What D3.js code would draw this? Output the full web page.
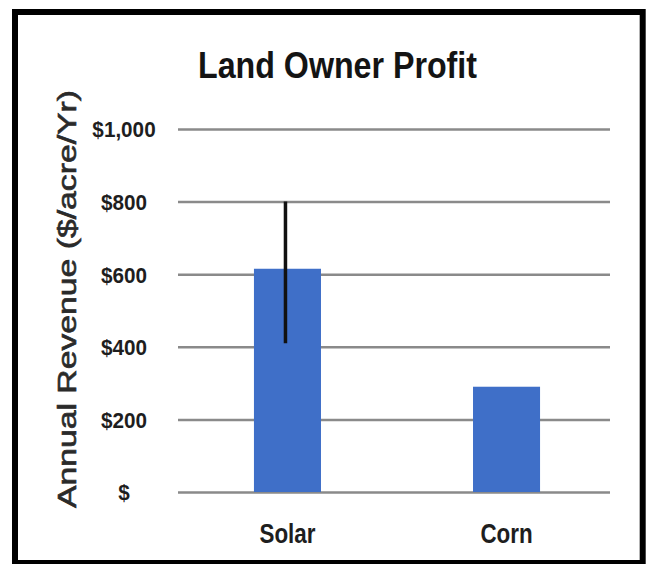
<!DOCTYPE html>
<html>
<head>
<meta charset="utf-8">
<script src="https://cdn.jsdelivr.net/npm/d3@7"></script>
<style>
  html, body { margin: 0; padding: 0; background: #fff; }
  svg { display: block; font-family: "Liberation Sans", Arial, sans-serif; }
</style>
</head>
<body>
<div id="chart"></div>
<script>
const categories = ['Solar', 'Corn'];
const revenue = [615, 290];
const errLow = [410, null];
const errHigh = [800, null];
const yTicks = [0, 200, 400, 600, 800, 1000];
const yTickLabels = ['$', '$200', '$400', '$600', '$800', '$1,000'];

const width = 654, height = 564;
const plot = { left: 178, right: 610, top: 129, bottom: 492 };

const svg = d3.select('#chart')
  .append('svg')
    .attr('width', width)
    .attr('height', height);

svg.append('rect')
  .attr('width', width)
  .attr('height', height)
  .attr('fill', '#fff');

const y = d3.scaleLinear()
  .domain([0, 1000])
  .range([plot.bottom, plot.top]);

const x = d3.scaleBand()
  .domain(categories)
  .range([plot.left + 3, plot.right + 3])
  .paddingInner(0.694)
  .paddingOuter(0.333);

// gridlines + tick labels
const yAxis = svg.append('g')
  .attr('transform', `translate(${plot.left},0)`)
  .call(d3.axisLeft(y)
    .tickValues(yTicks)
    .tickSize(-(plot.right - plot.left))
    .tickFormat((d, i) => yTickLabels[i]))
  .call(g => g.select('.domain').remove());

yAxis.selectAll('.tick line')
  .attr('stroke', '#8a8a8a')
  .attr('stroke-width', 2.5);

yAxis.selectAll('.tick text')
  .attr('x', 124 - plot.left)
  .attr('dy', '0.36em')
  .attr('text-anchor', 'middle')
  .style('font-size', '22px')
  .style('font-weight', 'bold')
  .style('fill', '#1e1e1e')
  .each(function () {
    const len = this.getComputedTextLength();
    d3.select(this).attr('textLength', len * 0.94).attr('lengthAdjust', 'spacingAndGlyphs');
  });

// bars
svg.selectAll('.bar')
  .data(categories)
  .join('rect')
  .attr('class', 'bar')
  .attr('x', d => x(d))
  .attr('y', (d, i) => y(revenue[i]))
  .attr('width', x.bandwidth())
  .attr('height', (d, i) => y(0) - y(revenue[i]))
  .attr('fill', '#3f6fc8');

// error bars (no caps)
svg.selectAll('.err')
  .data(categories.filter((d, i) => errHigh[i] != null))
  .join('line')
  .attr('class', 'err')
  .attr('x1', d => x(d) + x.bandwidth() / 2 - 2)
  .attr('x2', d => x(d) + x.bandwidth() / 2 - 2)
  .attr('y1', d => y(errHigh[categories.indexOf(d)]))
  .attr('y2', d => y(errLow[categories.indexOf(d)]))
  .attr('stroke', '#111')
  .attr('stroke-width', 3.5);

// category labels
svg.selectAll('.cat')
  .data(categories)
  .join('text')
  .attr('class', 'cat')
  .attr('x', d => x(d) + x.bandwidth() / 2)
  .attr('y', 543)
  .attr('text-anchor', 'middle')
  .style('font-size', '28px')
  .style('font-weight', 'bold')
  .style('fill', '#1e1e1e')
  .text(d => d)
  .each(function () {
    const len = this.getComputedTextLength();
    d3.select(this).attr('textLength', len * 0.8).attr('lengthAdjust', 'spacingAndGlyphs');
  });

// title
svg.append('text')
  .attr('x', 337.5)
  .attr('y', 78)
  .attr('text-anchor', 'middle')
  .attr('textLength', 279)
  .attr('lengthAdjust', 'spacingAndGlyphs')
  .style('font-size', '36px')
  .style('font-weight', 'bold')
  .style('fill', '#141414')
  .text('Land Owner Profit');

// y axis title
svg.append('text')
  .attr('transform', 'translate(76,299) rotate(-90)')
  .attr('text-anchor', 'middle')
  .attr('textLength', 418)
  .attr('lengthAdjust', 'spacingAndGlyphs')
  .style('font-size', '25px')
  .style('font-weight', 'normal')
  .style('fill', '#2a2a2a')
  .style('stroke', '#2a2a2a')
  .style('stroke-width', 0.6)
  .text('Annual Revenue ($/acre/Yr)');

// outer frame
svg.append('rect')
  .attr('x', 15)
  .attr('y', 12)
  .attr('width', 627.7)
  .attr('height', 551)
  .attr('fill', 'none')
  .attr('stroke', '#000')
  .attr('stroke-width', 6);
</script>
</body>
</html>
